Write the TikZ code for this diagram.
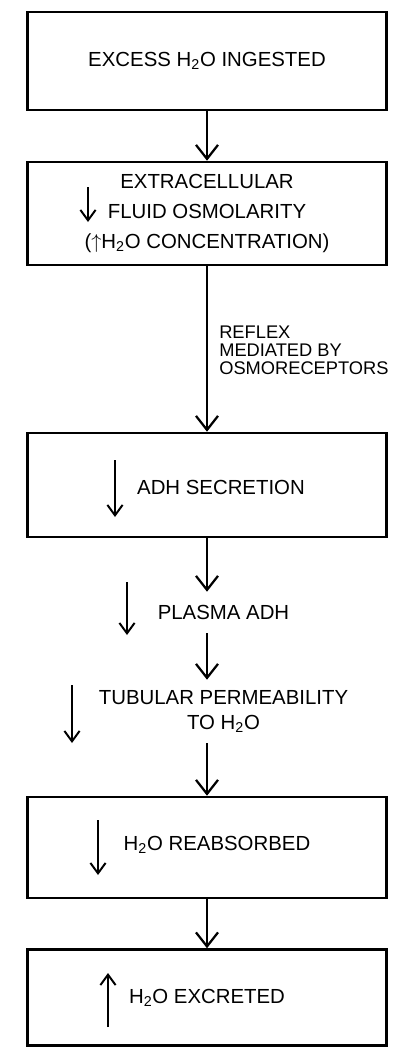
\documentclass[tikz,border=0pt]{standalone}
\usepackage{fontspec}
\setmainfont{Liberation Sans}
\usetikzlibrary{arrows.meta}

\tikzset{
  box/.style={draw,line width=1.8pt,minimum width=8.98cm,inner sep=0pt,align=center},
  lbl/.style={inner sep=0pt,align=center},
  flow/.style={line width=1.6pt,-{Straight Barb[length=3.5mm,width=5.5mm]}},
  ind/.style={line width=1.4pt,-{Straight Barb[length=2.6mm,width=3.8mm]}}
}

\begin{document}
\begin{tikzpicture}[x=.025cm,y=-.025cm,font=\fontsize{14.5}{21}\selectfont]
  \useasboundingbox (0,0) rectangle (401,1048);
  % boxes
  \node[box,minimum height=2.45cm] (ingest) at (207,61) {EXCESS H\textsubscript{2}O INGESTED};
  \node[box,minimum height=2.575cm] (osmol) at (207,213.5) {EXTRACELLULAR\\FLUID OSMOLARITY\\($\uparrow$H\textsubscript{2}O CONCENTRATION)};
  \node[box,minimum height=2.6cm] (secr) at (207,485) {};
  \node[box,minimum height=2.525cm] (reabs) at (207,847.5) {};
  \node[box,minimum height=2.4cm] (excr) at (207,997.5) {H\textsubscript{2}O EXCRETED};
  % texts between and in boxes
  \node[lbl] (secrt) at (221,487) {ADH SECRETION};
  \node[lbl] (reabst) at (217,845) {H\textsubscript{2}O REABSORBED};
  \node[lbl,minimum height=1.025cm] (plasma) at (223.5,612.5) {PLASMA ADH};
  \node[lbl,minimum height=1.575cm,font=\fontsize{14.5}{17.8}\selectfont] (perm) at (223.5,711.5) {TUBULAR PERMEABILITY\\TO H\textsubscript{2}O};
  \node[lbl,anchor=west,align=left,font=\fontsize{13}{12.8}\selectfont] (reflex) at (219,350) {REFLEX\\MEDIATED BY\\OSMORECEPTORS};
  % flow
  \draw[flow] (ingest.south) -- (ingest.south |- osmol.north);
  \draw[flow] (osmol.south) -- (osmol.south |- secr.north);
  \draw[flow] (secr.south) -- (secr.south |- plasma.north);
  \draw[flow] (secr.south |- plasma.south) -- (secr.south |- perm.north);
  \draw[flow] (secr.south |- perm.south) -- (reabs.north);
  \draw[flow] (reabs.south) -- (excr.north);
  % increase / decrease marks
  \draw[ind] (88,187) -- (88,222);
  \draw[ind] (115,460) -- (115,517);
  \draw[ind] (127,582) -- (127,635);
  \draw[ind] (72,685) -- (72,743);
  \draw[ind] (98,820) -- (98,875);
  \draw[ind] (108,1027) -- (108,973);
\end{tikzpicture}
\end{document}
